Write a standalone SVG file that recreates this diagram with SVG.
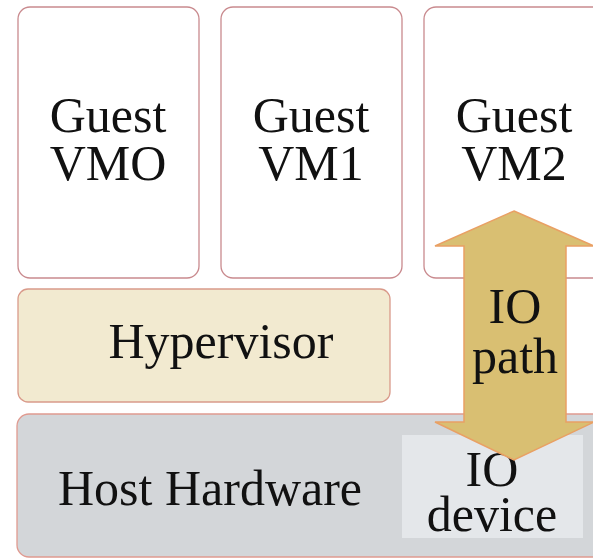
<svg xmlns="http://www.w3.org/2000/svg" width="593" height="560" viewBox="0 0 593 560">
  <style>
    .lbl { font-family: "Liberation Serif", "Times New Roman", serif; font-size: 50px; fill: #111; text-anchor: middle; }
    .vm { fill: #ffffff; stroke: #c98a8e; stroke-width: 1.3; }
    .hyp { fill: #f2ead0; stroke: #d99a8a; stroke-width: 1.3; }
    .hw { fill: #d3d6d9; stroke: #e09a90; stroke-width: 1.3; }
    .dev { fill: #e4e7ea; }
    .io { fill: #d9bf72; stroke: #e9a064; stroke-width: 1.5; }
  </style>
  <rect width="593" height="560" fill="#ffffff"/>

  <g id="vm0">
    <rect class="vm" x="18" y="7" width="181" height="271" rx="12"/>
    <text class="lbl" x="108" y="132">Guest</text>
    <text class="lbl" x="108" y="180">VMO</text>
  </g>
  <g id="vm1">
    <rect class="vm" x="221" y="7" width="181" height="271" rx="12"/>
    <text class="lbl" x="311" y="132">Guest</text>
    <text class="lbl" x="311" y="180">VM1</text>
  </g>
  <g id="vm2">
    <rect class="vm" x="424" y="7" width="190" height="271" rx="12"/>
    <text class="lbl" x="514" y="132">Guest</text>
    <text class="lbl" x="514" y="180">VM2</text>
  </g>

  <g id="hypervisor">
    <rect class="hyp" x="18" y="289" width="372" height="113" rx="10"/>
    <text class="lbl" x="221" y="358">Hypervisor</text>
  </g>

  <g id="hardware">
    <rect class="hw" x="17" y="414" width="600" height="143" rx="12"/>
    <text class="lbl" x="210" y="505">Host Hardware</text>
  </g>

  <g id="io-device">
    <rect class="dev" x="402" y="435" width="181" height="103"/>
    <text class="lbl" x="492" y="486">IO</text>
    <text class="lbl" x="492" y="531">device</text>
  </g>

  <g id="connectors">
    <g id="io-path">
      <polygon class="io" points="514,211 594,246 566,246 566,422 594,422 514,460 435,422 464,422 464,246 435,246"/>
      <text class="lbl" x="515" y="323">IO</text>
      <text class="lbl" x="515" y="373">path</text>
    </g>
  </g>
</svg>
